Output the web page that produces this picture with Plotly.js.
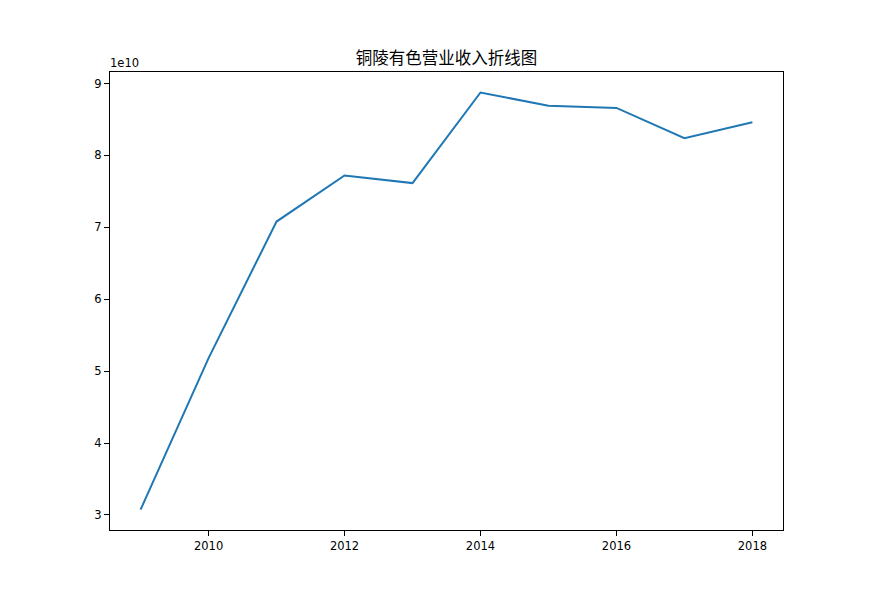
<!DOCTYPE html>
<html>
<head>
<meta charset="utf-8">
<script src="https://cdn.plot.ly/plotly-3.0.1.min.js"></script>
<style>
  body { margin: 0; background: #ffffff; }
  #chart { width: 869px; height: 596px; }
</style>
</head>
<body>
<div id="chart"></div>
<script>
// 铜陵有色 revenue
const years = [2009, 2010, 2011, 2012, 2013, 2014, 2015, 2016, 2017, 2018];
const revenue = [3.074e10, 5.18e10, 7.08e10, 7.72e10, 7.615e10, 8.875e10, 8.69e10, 8.66e10, 8.24e10, 8.46e10];
const xTicks = [2010, 2012, 2014, 2016, 2018];
const yTicks = [3, 4, 5, 6, 7, 8, 9];

function createRevenueChart() {
    if (typeof Plotly === 'undefined') return;

    const trace = {
        x: years,
        y: revenue,
        type: 'scatter',
        mode: 'lines',
        line: { color: '#1f77b4', width: 2 },
        hoverinfo: 'skip'
    };

    const tickFont = { family: 'DejaVu Sans, sans-serif', size: 11.5, color: '#000000' };

    const layout = {
        width: 869,
        height: 596,
        margin: { l: 110, r: 86, t: 72, b: 66 },
        paper_bgcolor: '#ffffff',
        plot_bgcolor: '#ffffff',
        showlegend: false,
        title: {
            text: '铜陵有色营业收入折线图',
            font: { family: 'Noto Sans CJK SC, sans-serif', size: 16.5, color: '#000000' },
            xref: 'paper',
            x: 0.5,
            xanchor: 'center',
            y: 1 - 58 / 596,
            yanchor: 'middle'
        },
        xaxis: {
            range: [2008.55, 2018.45],
            tickvals: xTicks,
            ticktext: xTicks.map(String),
            ticks: 'outside',
            ticklen: 5,
            tickwidth: 1,
            tickcolor: '#000000',
            showline: true,
            linecolor: '#000000',
            linewidth: 1,
            mirror: true,
            showgrid: false,
            zeroline: false,
            tickfont: tickFont
        },
        yaxis: {
            range: [2.79e10, 9.16e10],
            tickvals: yTicks.map(v => v * 1e10),
            ticktext: yTicks.map(String),
            ticks: 'outside',
            ticklen: 5,
            tickwidth: 1,
            tickcolor: '#000000',
            showline: true,
            linecolor: '#000000',
            linewidth: 1,
            mirror: true,
            showgrid: false,
            zeroline: false,
            tickfont: tickFont
        },
        annotations: [{
            text: '1e10',
            xref: 'paper',
            yref: 'paper',
            x: 0,
            y: 1,
            xanchor: 'left',
            yanchor: 'bottom',
            xshift: -2,
            yshift: 0,
            showarrow: false,
            font: tickFont
        }]
    };

    try {
        Plotly.newPlot('chart', [trace], layout, { displayModeBar: false, staticPlot: true });
    } catch (error) {
        console.log('Error creating revenue chart:', error);
    }
}

createRevenueChart();
</script>
</body>
</html>
